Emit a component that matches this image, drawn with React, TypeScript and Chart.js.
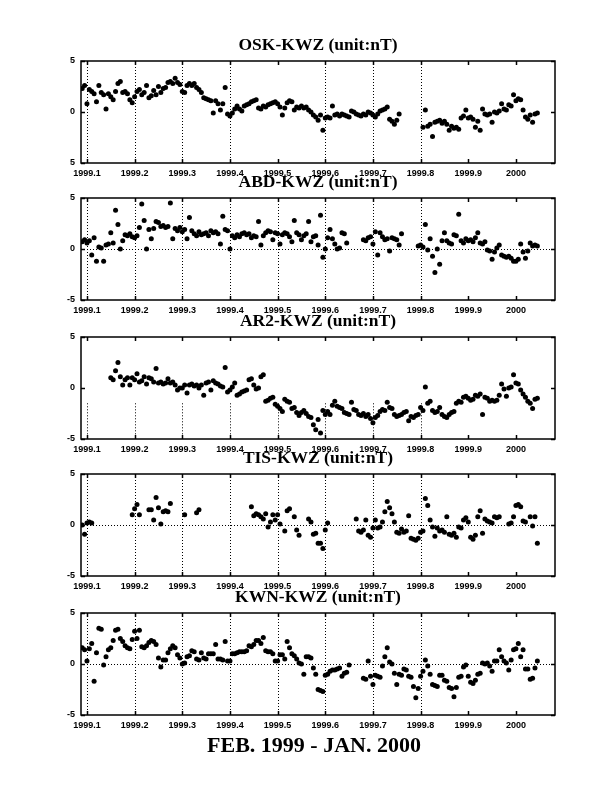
import React, { useEffect, useRef } from 'react';
import { Chart, registerables } from 'chart.js';

Chart.register(...registerables);

// Sample dates (decimal year), shared by all five stations
const DATES: number[] = [
  1999.090, 1999.095, 1999.100, 1999.105, 1999.110, 1999.115, 1999.120, 1999.125, 1999.130, 1999.135,
  1999.140, 1999.145, 1999.150, 1999.155, 1999.160, 1999.165, 1999.170, 1999.175, 1999.180, 1999.185,
  1999.190, 1999.195, 1999.200, 1999.205, 1999.210, 1999.215, 1999.220, 1999.225, 1999.230, 1999.235,
  1999.240, 1999.245, 1999.250, 1999.255, 1999.260, 1999.265, 1999.270, 1999.275, 1999.280, 1999.285,
  1999.290, 1999.295, 1999.300, 1999.305, 1999.310, 1999.315, 1999.320, 1999.325, 1999.330, 1999.335,
  1999.340, 1999.345, 1999.350, 1999.355, 1999.360, 1999.365, 1999.370, 1999.375, 1999.380, 1999.385,
  1999.390, 1999.395, 1999.400, 1999.405, 1999.410, 1999.415, 1999.420, 1999.425, 1999.430, 1999.435,
  1999.440, 1999.445, 1999.450, 1999.455, 1999.460, 1999.465, 1999.470, 1999.475, 1999.480, 1999.485,
  1999.490, 1999.495, 1999.500, 1999.505, 1999.510, 1999.515, 1999.520, 1999.525, 1999.530, 1999.535,
  1999.540, 1999.545, 1999.550, 1999.555, 1999.560, 1999.565, 1999.570, 1999.575, 1999.580, 1999.585,
  1999.590, 1999.595, 1999.600, 1999.605, 1999.610, 1999.615, 1999.620, 1999.625, 1999.630, 1999.635,
  1999.640, 1999.645, 1999.650, 1999.655, 1999.660, 1999.665, 1999.670, 1999.675, 1999.680, 1999.685,
  1999.690, 1999.695, 1999.700, 1999.705, 1999.710, 1999.715, 1999.720, 1999.725, 1999.730, 1999.735,
  1999.740, 1999.745, 1999.750, 1999.755, 1999.760, 1999.765, 1999.770, 1999.775, 1999.780, 1999.785,
  1999.790, 1999.795, 1999.800, 1999.805, 1999.810, 1999.815, 1999.820, 1999.825, 1999.830, 1999.835,
  1999.840, 1999.845, 1999.850, 1999.855, 1999.860, 1999.865, 1999.870, 1999.875, 1999.880, 1999.885,
  1999.890, 1999.895, 1999.900, 1999.905, 1999.910, 1999.915, 1999.920, 1999.925, 1999.930, 1999.935,
  1999.940, 1999.945, 1999.950, 1999.955, 1999.960, 1999.965, 1999.970, 1999.975, 1999.980, 1999.985,
  1999.990, 1999.995, 2000.000, 2000.005, 2000.010, 2000.015, 2000.020, 2000.025, 2000.030, 2000.035,
  2000.040, 2000.045, 2000.050, 2000.055, 2000.060, 2000.065, 2000.070, 2000.075, 2000.080,
];

const OSK_KWZ: (number | null)[] = [
  2.3, 2.6, 0.8, 2.2, 2.0, 1.8, 1.0, 2.6, 1.9, 1.7,
  0.3, 1.8, 1.5, 1.2, 2.0, 2.8, 3.0, 1.9, 2.0, 1.8,
  1.2, 0.9, 1.5, 2.0, 2.2, 1.7, 1.9, 2.6, 1.4, 1.6,
  2.1, 1.7, 2.5, 1.9, 2.3, 2.4, 2.9, 3.0, 2.8, 3.3,
  2.9, 2.7, 2.0, 1.9, 2.6, 2.8, 2.6, 2.8, 2.4, 2.2,
  1.9, 1.4, 1.3, 1.2, 1.1, -0.1, 1.1, 0.8, 0.2, 0.8,
  2.4, -0.2, -0.4, -0.1, 0.3, 0.6, 0.3, 0.1, 0.6, 0.7,
  0.8, 1.0, 1.1, 1.2, 0.4, 0.3, 0.6, 0.5, 0.7, 0.8,
  0.9, 1.0, 0.8, 0.5, -0.3, 0.4, 0.9, 1.1, 1.0, 0.2,
  0.5, 0.4, 0.6, 0.4, 0.5, 0.2, 0.0, -0.3, -0.5, -0.8,
  -0.3, -1.8, -0.6, -0.5, -0.6, 0.6, -0.3, -0.2, -0.4, -0.2,
  -0.3, -0.4, -0.5, 0.1, 0.0, -0.2, -0.3, -0.4, -0.2, -0.3,
  0.0, -0.1, -0.3, -0.5, -0.2, 0.1, 0.2, 0.3, 0.5, -0.7,
  -0.9, -1.2, -0.8, -0.2, null, null, null, null, null, null,
  null, null, null, -1.5, 0.2, -1.4, -1.2, -2.4, -1.0, -0.9,
  -0.8, -1.1, -0.9, -1.2, -1.8, -1.4, -1.6, -1.5, -1.7, -0.6,
  -0.4, 0.2, -0.6, -0.5, -0.7, -1.5, -0.9, -1.8, 0.3, -0.2,
  -0.3, -0.2, -1.0, 0.0, -0.1, 0.1, 0.8, 0.3, 0.2, 0.7,
  0.6, 1.7, 1.1, 1.3, 1.2, 0.2, -0.5, -0.7, -0.3, -1.0,
  -0.2, -0.1, null, null, null, null, null, null, null,
];

const ABD_KWZ: (number | null)[] = [
  0.7, 0.9, 0.6, 0.8, -0.6, 1.1, -1.2, 0.2, 0.1, -1.2,
  0.4, 0.5, 1.6, 0.6, 3.8, 2.4, 0.0, 0.8, 1.4, 1.3,
  1.5, 1.2, 1.1, 1.3, 2.1, 4.4, 2.8, 0.0, 1.9, 1.0,
  2.0, 2.7, 2.6, 2.2, 2.3, 2.1, 2.2, 4.5, 1.0, 2.0,
  1.8, 2.1, 1.7, 1.9, 1.0, 3.1, 1.8, 1.5, 1.3, 1.7,
  1.4, 1.5, 1.6, 1.3, 1.8, 1.6, 1.7, 1.5, 0.5, 3.2,
  1.9, 1.8, 0.0, 1.3, 1.1, 1.4, 1.2, 1.5, 1.6, 1.4,
  1.5, 1.1, 1.3, 1.2, 2.7, 0.4, 1.3, 1.6, 1.8, 1.7,
  0.9, 1.6, 1.5, 0.5, 1.4, 1.6, 1.5, 1.2, 0.7, 2.8,
  1.6, 1.4, 0.9, 1.3, 1.5, 2.7, 0.7, 1.2, 1.3, 0.4,
  3.3, -0.8, 0.0, 1.1, 1.9, 1.0, 0.5, 0.0, 0.1, 1.6,
  1.5, 0.6, null, null, null, null, null, null, 0.9, 0.8,
  1.1, 1.2, 0.5, 1.7, -0.6, 1.6, 1.2, 0.9, 1.0, -0.2,
  1.1, 1.0, 0.9, 0.4, 1.5, null, null, null, null, null,
  null, 0.3, 0.4, 0.2, 2.4, -0.1, 1.0, -0.7, -2.3, 0.0,
  -1.5, 0.8, 1.6, 0.8, 0.6, 0.5, 1.4, 1.3, 3.4, 0.8,
  0.6, 1.0, 0.8, 0.9, 0.7, 1.1, 1.6, 0.6, 0.5, 0.7,
  -0.1, -0.2, -1.0, -0.3, 0.1, 0.4, -0.6, -0.7, -0.8, -0.7,
  -0.9, -1.2, -1.2, -1.0, 0.5, -0.3, -0.9, -0.2, 0.6, 0.3,
  0.4, 0.3, null, null, null, null, null, null, null,
];

const AR2_KWZ: (number | null)[] = [
  null, null, null, null, null, null, null, null, null, null,
  null, null, 1.0, 0.8, 1.7, 2.5, 1.1, 0.3, 0.8, 1.0,
  0.3, 1.0, 0.8, 1.4, 0.6, 0.7, 1.1, 0.4, 1.0, 0.9,
  0.6, 1.9, 0.5, 0.6, 0.4, 0.5, 0.9, 0.5, 0.6, 0.3,
  -0.2, 0.0, 0.0, 0.3, -0.5, 0.3, 0.4, 0.2, 0.3, 0.0,
  0.3, -0.7, 0.5, 0.6, -0.2, 0.7, 0.5, 0.4, 0.2, 0.1,
  2.0, -0.4, -0.2, 0.1, 0.5, -0.7, -0.6, -0.4, -0.3, -0.2,
  0.8, 0.9, 0.3, -0.1, 0.0, 1.1, 1.3, -1.3, -1.2, -1.0,
  -0.9, -1.6, -1.8, -2.0, -2.3, -1.1, -1.3, -1.4, -2.0, -1.9,
  -2.4, -2.7, -2.4, -2.2, -2.5, -2.8, -2.9, -3.6, -4.1, -3.1,
  -4.4, -2.2, -2.6, -2.3, -2.6, -1.7, -1.3, -1.8, -1.9, -2.0,
  -2.4, -2.5, -2.6, -1.4, -2.1, -2.2, -2.6, -2.7, -2.5, -2.8,
  -2.6, -3.0, -3.4, -2.9, -2.7, -2.3, -2.1, -2.2, -1.4, -1.9,
  -2.0, -2.6, -2.8, -2.7, -2.6, -2.4, -2.3, -3.2, -2.8, -2.9,
  -2.7, -2.6, -1.9, -2.2, 0.1, -1.5, -1.3, -2.2, -2.4, -2.3,
  -1.9, -2.6, -2.8, -2.9, -2.6, -2.4, -2.3, -1.5, -1.3, -1.4,
  -0.9, -0.8, -1.0, -1.2, -1.1, -0.7, -0.8, -0.6, -2.6, -0.9,
  -1.0, -1.3, -1.2, -1.3, -1.2, -0.7, 0.4, -0.1, -0.8, 0.0,
  0.1, 1.3, 0.5, 0.4, -0.2, -0.6, -0.9, -1.3, -1.5, -2.0,
  -1.1, -1.0, null, null, null, null, null, null, null,
];

const TIS_KWZ: (number | null)[] = [
  0.0, -0.9, 0.2, 0.3, 0.2, null, null, null, null, null,
  null, null, null, null, null, null, null, null, null, null,
  null, 1.0, 1.6, 2.0, 1.0, null, null, null, 1.5, 1.5,
  0.5, 2.7, 1.7, 0.1, 1.3, 1.4, 1.3, 2.1, null, null,
  null, null, null, 1.0, null, null, null, null, 1.2, 1.5,
  null, null, null, null, null, null, null, null, null, null,
  null, null, null, null, null, null, null, null, null, null,
  null, 1.8, 0.9, 1.1, 1.0, 0.8, 0.6, 1.1, -0.2, 0.3,
  1.0, 0.5, 1.0, 0.1, null, -0.6, 1.4, 1.6, null, 0.8,
  -0.5, -1.0, null, null, null, 0.6, 0.3, -0.9, -0.8, -1.8,
  -1.8, -2.3, -0.5, 0.2, null, null, null, null, null, null,
  null, null, null, null, null, 0.6, -0.6, -0.7, -0.5, 0.5,
  -1.0, -1.2, -0.3, 0.5, -0.3, -0.2, 0.3, 1.3, 2.3, 1.7,
  1.1, 0.3, -0.7, -0.8, -0.4, -0.7, -0.6, 0.9, -1.3, -1.4,
  -1.5, -1.3, -0.7, -0.6, 2.6, 1.9, 0.5, -0.2, -1.1, -0.3,
  -0.6, -0.5, -0.7, 0.8, -0.9, -1.0, -0.8, -1.2, -0.2, -0.3,
  0.5, 0.7, 0.3, -1.2, -1.4, -1.0, 0.8, 1.4, -0.8, 0.6,
  0.4, 0.3, 0.2, 0.8, 0.7, 0.8, null, null, null, 0.1,
  0.2, 0.8, 1.9, 2.0, 1.8, 0.4, 0.3, null, 0.8, -0.1,
  0.8, -1.8, null, null, null, null, null, null, null,
];

const KWN_KWZ: (number | null)[] = [
  1.6, 1.4, 0.3, 1.5, 2.0, -1.7, 1.1, 3.5, 3.4, -0.1,
  0.7, 1.4, 1.6, 2.3, 3.3, 3.4, 2.5, 2.2, 1.8, 1.6,
  1.5, 2.4, 3.2, 2.5, 3.3, 1.7, 1.6, 1.8, 2.1, 2.3,
  2.2, 1.9, 0.6, -0.3, 0.4, 0.4, 1.1, 1.5, 1.8, 1.6,
  0.9, 0.6, 0.0, 0.1, 0.7, 0.8, 1.3, 1.2, 0.5, 0.4,
  1.1, 0.6, 0.5, 1.0, 1.0, 1.0, 1.9, 0.5, 0.5, 0.4,
  2.2, 0.3, 0.3, 1.0, 1.0, 1.1, 1.2, 1.2, 1.2, 1.3,
  1.8, 1.7, 1.9, 2.3, 2.3, 2.0, 2.6, 1.3, 1.2, 1.2,
  1.0, 0.3, 0.3, 0.9, 0.9, 0.5, 2.2, 1.6, 1.0, 0.8,
  0.5, 0.1, 0.0, -1.0, 0.7, 0.7, 0.6, -0.4, -1.0, -2.5,
  -2.6, -2.7, -1.1, -1.0, -0.7, -0.6, -0.6, -0.5, -0.4, -1.2,
  -0.9, -0.8, -0.1, null, null, null, null, null, -1.4, -1.5,
  0.3, -1.2, -2.0, -1.1, -1.2, -1.3, -0.2, 0.7, 1.6, 0.2,
  0.0, -0.9, -2.0, -1.0, -1.1, -0.5, -0.6, -1.2, -1.3, -2.2,
  -3.3, -2.4, -1.2, -0.7, 0.4, -0.2, -1.0, -2.0, -2.1, -2.2,
  -1.1, -1.1, -1.6, -1.7, -2.3, -2.4, -3.2, -2.3, -1.3, -1.2,
  -0.3, -0.1, -1.2, -1.8, -1.9, -1.6, -1.0, -0.9, 0.1, 0.0,
  0.1, -0.2, -0.7, 0.3, 0.3, 1.4, 0.7, 0.3, 0.1, -0.6,
  0.4, 1.4, 1.5, 2.0, 0.7, 1.4, -0.5, -0.5, -1.5, -1.4,
  -0.4, 0.3, null, null, null, null, null, null, null,
];

const TITLES = [
  'OSK-KWZ (unit:nT)',
  'ABD-KWZ (unit:nT)',
  'AR2-KWZ (unit:nT)',
  'TIS-KWZ (unit:nT)',
  'KWN-KWZ (unit:nT)',
];
const SERIES = [OSK_KWZ, ABD_KWZ, AR2_KWZ, TIS_KWZ, KWN_KWZ];

const X_TICKS = [1999.1, 1999.2, 1999.3, 1999.4, 1999.5, 1999.6, 1999.7, 1999.8, 1999.9, 2000.0];
const X_TICK_LABELS = ['1999.1', '1999.2', '1999.3', '1999.4', '1999.5', '1999.6', '1999.7', '1999.8', '1999.9', '2000'];
const Y_TICKS = [-5, 0, 5];
const Y_TICK_LABELS = [
  ['5', '0', '5'],
  ['-5', '0', '5'],
  ['-5', '0', '5'],
  ['-5', '0', '5'],
  ['-5', '0', '5'],
];
const MAIN_TITLE = 'FEB. 1999 - JAN. 2000';

const X_MIN = 1999.0875;
const X_MAX = 2000.082;

// Layout (page pixels)
const PLOT_TOPS = [61, 198, 337, 474, 613];
const TITLE_BOX = 28;
const CANVAS_H = 150;

// per-panel grid appearance
const GRID_CFG = [
  { skip: [1999.5, 1999.9, 2000.0], zero: false, vFrom: 5 },
  { skip: [1999.9, 2000.0], zero: true, vFrom: 5 },
  { skip: [1999.9, 2000.0], zero: false, vFrom: -1.5 },
  { skip: [1999.9, 2000.0], zero: true, vFrom: 5 },
  { skip: [1999.9, 2000.0], zero: true, vFrom: 5 },
];

const framePlugin = {
  id: 'frame',
  beforeDatasetsDraw(chart: any, _args: any, opts: any) {
    const { ctx, chartArea } = chart;
    const xs = chart.scales.x;
    const ys = chart.scales.y;
    ctx.save();
    ctx.strokeStyle = '#000';
    ctx.lineWidth = 1;
    ctx.setLineDash([1, 2]);
    X_TICKS.forEach((v) => {
      if (opts.skip.some((s: number) => Math.abs(s - v) < 1e-6)) return;
      const px = Math.round(xs.getPixelForValue(v)) + 0.5;
      ctx.beginPath();
      ctx.moveTo(px, ys.getPixelForValue(opts.vFrom));
      ctx.lineTo(px, chartArea.bottom);
      ctx.stroke();
    });
    if (opts.zero) {
      const py = Math.round(ys.getPixelForValue(0)) + 0.5;
      ctx.beginPath();
      ctx.moveTo(chartArea.left, py);
      ctx.lineTo(chartArea.right, py);
      ctx.stroke();
    }
    ctx.restore();
  },
  afterDatasetsDraw(chart: any) {
    const { ctx, chartArea } = chart;
    const xs = chart.scales.x;
    const ys = chart.scales.y;
    const { left, right, top, bottom } = chartArea;
    ctx.save();
    ctx.strokeStyle = '#000';
    ctx.setLineDash([]);
    ctx.lineWidth = 1.5;
    ctx.strokeRect(left, top, right - left, bottom - top);
    const tl = 4;
    ctx.beginPath();
    X_TICKS.forEach((v) => {
      const px = Math.round(xs.getPixelForValue(v)) + 0.5;
      ctx.moveTo(px, top);
      ctx.lineTo(px, top + tl);
      ctx.moveTo(px, bottom);
      ctx.lineTo(px, bottom - tl);
    });
    Y_TICKS.forEach((v) => {
      const py = Math.round(ys.getPixelForValue(v)) + 0.5;
      ctx.moveTo(left, py);
      ctx.lineTo(left + tl, py);
      ctx.moveTo(right, py);
      ctx.lineTo(right - tl, py);
    });
    ctx.stroke();
    ctx.restore();
  },
};

function Panel({ index }: { index: number }) {
  const ref = useRef<HTMLCanvasElement | null>(null);
  useEffect(() => {
    if (!ref.current) return;
    const values = SERIES[index];
    const points = DATES.map((x, i) => ({ x, y: values[i] })).filter((p) => p.y !== null);
    const yLabels = Y_TICK_LABELS[index];
    const tickFont = { family: '"Liberation Sans", Arial, sans-serif', size: 9, weight: 'bold' as const };
    const chart = new Chart(ref.current, {
      type: 'scatter',
      data: {
        datasets: [
          {
            data: points as any,
            pointRadius: 2.5,
            pointHoverRadius: 2.5,
            pointStyle: 'circle',
            backgroundColor: '#000',
            borderColor: '#000',
            borderWidth: 0,
          },
        ],
      },
      options: {
        animation: false,
        responsive: false,
        events: [],
        layout: { padding: { left: 0, right: 59, top: 0, bottom: 0 } },
        plugins: {
          legend: { display: false },
          tooltip: { enabled: false },
          title: {
            display: true,
            text: TITLES[index],
            fullSize: false,
            color: '#000',
            font: { family: '"Liberation Serif", "Times New Roman", serif', size: 17.5, weight: 'bold', lineHeight: 1 },
            padding: { top: 4, bottom: 6.5 },
          },
          frame: GRID_CFG[index],
        } as any,
        scales: {
          x: {
            type: 'linear',
            min: X_MIN,
            max: X_MAX,
            afterBuildTicks: (s: any) => {
              s.ticks = X_TICKS.map((v) => ({ value: v }));
            },
            afterFit: (s: any) => {
              s.height = 20;
            },
            grid: { display: false, drawTicks: false },
            border: { display: false },
            ticks: {
              padding: 5,
              color: '#000',
              font: tickFont,
              autoSkip: false,
              maxRotation: 0,
              callback: (_v: any, i: number) => X_TICK_LABELS[i],
            },
          },
          y: {
            type: 'linear',
            min: -5,
            max: 5,
            afterBuildTicks: (s: any) => {
              s.ticks = Y_TICKS.map((v) => ({ value: v }));
            },
            afterFit: (s: any) => {
              s.width = 81;
            },
            grid: { display: false, drawTicks: false },
            border: { display: false },
            ticks: {
              padding: 6,
              color: '#000',
              font: tickFont,
              callback: (_v: any, i: number) => yLabels[i],
            },
          },
        },
      },
      plugins: [framePlugin],
    });
    return () => chart.destroy();
  }, [index]);
  return (
    <canvas
      ref={ref}
      width={614}
      height={CANVAS_H}
      style={{ position: 'absolute', left: 0, top: PLOT_TOPS[index] - TITLE_BOX, width: 614, height: CANVAS_H }}
    />
  );
}

export default function App() {
  return (
    <div style={{ position: 'absolute', left: 0, top: 0, width: 614, height: 806, background: '#fff' }}>
      {TITLES.map((_, i) => (
        <Panel key={i} index={i} />
      ))}
      <div
        style={{
          position: 'absolute',
          left: 114,
          top: 732,
          width: 400,
          textAlign: 'center',
          fontFamily: '"Liberation Serif", "Times New Roman", serif',
          fontWeight: 'bold',
          fontSize: 22,
          lineHeight: '25px',
          color: '#000',
          whiteSpace: 'nowrap',
        }}
      >
        {MAIN_TITLE}
      </div>
    </div>
  );
}
